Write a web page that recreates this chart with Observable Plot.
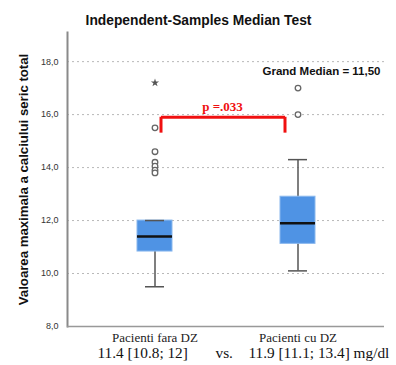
<!DOCTYPE html>
<html>
<head>
<meta charset="utf-8">
<script src="https://cdn.jsdelivr.net/npm/d3@7"></script>
<script src="https://cdn.jsdelivr.net/npm/@observablehq/plot@0.6"></script>
<style>
  body { margin: 0; background: #fff; }
  #chart svg { display: block; }
</style>
</head>
<body>
<div id="chart"></div>
<script>
const title = "Independent-Samples Median Test";
const yLabel = "Valoarea maximala a calciului seric total";
const categories = ["Pacienti fara DZ", "Pacienti cu DZ"];
const q1 = [10.83, 11.12];
const medians = [11.4, 11.9];
const q3 = [12.0, 12.9];
const whiskerLow = [9.5, 10.1];
const whiskerHigh = [12.0, 14.3];
const outliersFara = [15.5, 14.6, 14.2, 14.05, 13.9, 13.8];
const extremesFara = [17.2];
const outliersCu = [17.0, 16.0];
const yTicks = [8, 10, 12, 14, 16, 18];
const gridTicks = [10, 12, 14, 16, 18];
const grandMedianText = "Grand Median = 11,50";
const pText = "p =.033";
const bracketLow = 15.3;
const bracketHigh = 15.9;
const summaryFara = "11.4 [10.8; 12]";
const vsText = "vs.";
const summaryCu = "11.9 [11.1; 13.4] mg/dl";

const boxes = categories.map((c, i) => ({
  cat: c, q1: q1[i], med: medians[i], q3: q3[i], lo: whiskerLow[i], hi: whiskerHigh[i]
}));
const outliers = [
  ...outliersFara.map(v => ({cat: categories[0], v})),
  ...outliersCu.map(v => ({cat: categories[1], v}))
];
const extremes = extremesFara.map(v => ({cat: categories[0], v}));

const sans = "'Liberation Sans', Arial, sans-serif";
const serif = "'Liberation Serif', 'Times New Roman', serif";

const chart = Plot.plot({
  width: 396,
  height: 365,
  marginLeft: 67,
  marginRight: 12,
  marginTop: 32,
  marginBottom: 39,
  style: {fontFamily: sans, background: "#fff"},
  x: {type: "band", domain: categories, paddingInner: 0.756, paddingOuter: 0.48, label: null},
  y: {domain: [8, 19.1], label: null},
  marks: [
    Plot.gridY(gridTicks, {stroke: "#b8b8b8", strokeOpacity: 1, strokeDasharray: "2,3", strokeWidth: 1}),
    Plot.axisY(yTicks, {tickSize: 0, tickPadding: 9, tickFormat: d => d.toFixed(1).replace(".", ","), fontSize: 9, fill: "#333", label: null}),
    Plot.axisX({tickSize: 0, tickPadding: 6, fontSize: 13, fontFamily: serif, fill: "#222", label: null}),
    Plot.frame({anchor: "left", stroke: "#8a8a8a", strokeWidth: 2}),
    Plot.ruleY([8], {stroke: "#999", strokeWidth: 1.5}),
    Plot.ruleX(boxes, {x: "cat", y1: "lo", y2: "hi", stroke: "#555", strokeWidth: 1.5}),
    Plot.barY(boxes, {x: "cat", y1: "q1", y2: "q3", fill: "#4f93e4", stroke: "#8ab8ee", strokeWidth: 1}),
    Plot.tickY(boxes, {x: "cat", y: "lo", stroke: "#555", strokeWidth: 1.5, insetLeft: 8, insetRight: 8}),
    Plot.tickY(boxes, {x: "cat", y: "hi", stroke: "#555", strokeWidth: 1.5, insetLeft: 8, insetRight: 8}),
    Plot.tickY(boxes, {x: "cat", y: "med", stroke: "#111", strokeWidth: 2.5}),
    Plot.dot(outliers, {x: "cat", y: "v", r: 2.8, stroke: "#666", strokeWidth: 1.3, fill: "#fff"}),
    Plot.dot(extremes, {x: "cat", y: "v", r: 2.6, symbol: "star", fill: "#555"}),
    Plot.ruleY([bracketHigh], {x1: () => categories[0], x2: () => categories[1], insetLeft: 24, insetRight: 30, stroke: "#f01010", strokeWidth: 3}),
    Plot.ruleX([{cat: categories[0]}], {x: "cat", y1: bracketLow, y2: bracketHigh, dx: 6, stroke: "#f01010", strokeWidth: 3}),
    Plot.ruleX([{cat: categories[1]}], {x: "cat", y1: bracketLow, y2: bracketHigh, dx: -13, stroke: "#f01010", strokeWidth: 3}),
    Plot.text([pText], {text: d => d, frameAnchor: "top-left", dx: 155, dy: 74, textAnchor: "middle", lineAnchor: "middle", fill: "#f01010", fontWeight: "bold", fontFamily: serif, fontSize: 13}),
    Plot.text([grandMedianText], {text: d => d, frameAnchor: "top-left", dx: 254, dy: 39, textAnchor: "middle", lineAnchor: "middle", fill: "#111", fontWeight: "bold", fontSize: 11.5}),
    Plot.text([title], {text: d => d, frameAnchor: "top-left", dx: 131, dy: -12, textAnchor: "middle", lineAnchor: "middle", fill: "#111", fontWeight: "bold", fontSize: 13.8}),
    Plot.text([yLabel], {text: d => d, frameAnchor: "left", dx: -44, rotate: -90, textAnchor: "middle", lineAnchor: "middle", fill: "#111", fontWeight: "bold", fontSize: 13.2}),
    Plot.text([summaryFara], {text: d => d, frameAnchor: "bottom-left", dx: 30, dy: 27, textAnchor: "start", lineAnchor: "middle", fontFamily: serif, fontSize: 15.3, fill: "#111"}),
    Plot.text([vsText], {text: d => d, frameAnchor: "bottom-left", dx: 148, dy: 27, textAnchor: "start", lineAnchor: "middle", fontFamily: serif, fontSize: 15.3, fill: "#111"}),
    Plot.text([summaryCu], {text: d => d, frameAnchor: "bottom-left", dx: 181, dy: 27, textAnchor: "start", lineAnchor: "middle", fontFamily: serif, fontSize: 15.3, fill: "#111"})
  ]
});
document.getElementById("chart").appendChild(chart);
</script>
</body>
</html>
